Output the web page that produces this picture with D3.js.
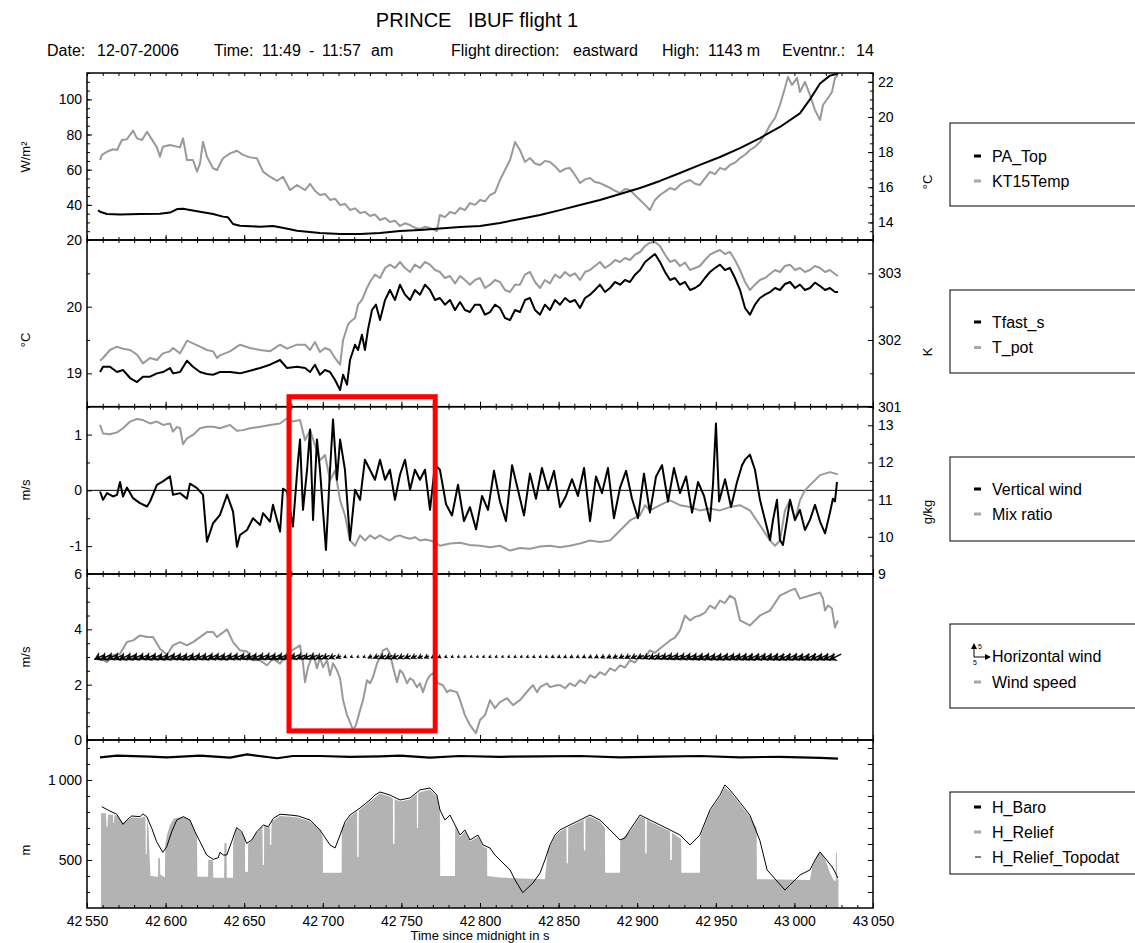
<!DOCTYPE html>
<html><head><meta charset="utf-8">
<script src="https://cdn.jsdelivr.net/npm/d3@7"></script>
<style>
body{margin:0;background:#fff;}
svg{font-family:"Liberation Sans",Arial,Helvetica,sans-serif;}
</style></head><body>
<svg id="chart" width="1135" height="943"></svg>
<script>
// ---- flight time axis (seconds since midnight) ----
const timeDomain = [42550, 43050];
const timeMajorTicks = [42550, 42600, 42650, 42700, 42750, 42800, 42850, 42900, 42950, 43000, 43050];

// ---- panel 1: radiation (W/m²) and surface temperature (°C) ----
const paTop = [[42557.0,36.8],[42558.3,36.1],[42562.7,34.8],[42571.0,34.5],[42583.7,34.8],[42596.4,35.0],[42602.8,35.6],[42607.3,37.6],[42611.1,37.8],[42615.5,37.1],[42621.9,36.1],[42630.2,34.8],[42636.5,33.3],[42639.7,32.9],[42642.9,29.1],[42647.3,28.1],[42660.1,27.6],[42668.3,28.0],[42676.0,26.7],[42683.6,25.3],[42698.2,24.0],[42711.0,23.4],[42723.7,23.4],[42736.4,24.0],[42749.1,25.1],[42761.8,25.7],[42774.5,26.5],[42787.3,27.4],[42800.0,28.0],[42812.7,29.7],[42825.4,32.0],[42838.2,34.2],[42850.9,37.0],[42863.6,39.9],[42876.3,42.8],[42889.1,46.2],[42901.8,49.6],[42914.5,53.6],[42927.2,58.1],[42939.9,62.7],[42952.7,67.2],[42965.4,72.3],[42978.1,78.0],[42990.8,84.3],[43003.5,92.0],[43009.9,100.0],[43016.3,109.0],[43022.6,113.5],[43027.7,114.5]];
const kt15Temp = [[42558.3,17.55],[42559.5,17.84],[42562.7,18.02],[42566.5,18.16],[42569.1,18.12],[42572.2,18.69],[42575.4,18.73],[42579.3,19.22],[42581.8,18.78],[42585.0,18.69],[42588.2,19.16],[42590.1,18.88],[42594.5,18.27],[42596.4,17.74],[42598.3,18.31],[42602.8,18.40],[42609.2,18.27],[42611.1,18.78],[42613.6,17.55],[42617.4,17.55],[42620.0,16.89],[42621.9,17.36],[42623.8,18.59],[42626.3,17.74],[42630.2,17.08],[42632.7,16.98],[42636.5,17.65],[42641.0,17.93],[42645.4,18.08],[42649.2,17.84],[42653.7,17.70],[42658.1,17.65],[42662.0,16.89],[42666.4,16.60],[42670.9,16.37],[42674.7,16.60],[42679.1,15.84],[42683.6,16.13],[42688.7,15.84],[42691.9,16.19],[42695.0,15.80],[42698.2,15.56],[42701.4,15.62],[42704.6,15.28],[42707.8,15.35],[42711.0,14.99],[42714.1,15.05],[42717.3,14.71],[42720.5,14.80],[42723.7,14.54],[42726.8,14.60],[42730.0,14.37],[42733.2,14.45],[42736.4,14.14],[42739.6,14.25],[42742.7,14.02],[42745.9,14.10],[42749.1,13.80],[42752.3,13.95],[42755.5,13.85],[42758.6,13.70],[42761.8,13.63],[42765.0,13.75],[42768.2,13.68],[42772.6,13.51],[42774.5,14.42],[42777.7,14.30],[42780.9,14.59],[42784.1,14.50],[42787.3,14.82],[42790.4,14.70],[42793.6,15.10],[42796.8,15.00],[42800.0,15.28],[42803.2,15.20],[42806.4,15.56],[42809.5,15.70],[42812.7,16.41],[42815.9,16.98],[42819.1,17.55],[42822.3,18.57],[42825.4,18.12],[42828.6,17.44],[42831.8,17.66],[42835.0,17.35],[42838.2,17.27],[42841.3,17.50],[42844.5,17.44],[42847.7,17.20],[42850.9,16.87],[42854.1,17.05],[42857.2,17.10],[42860.4,16.70],[42863.6,16.24],[42866.8,16.45],[42870.0,16.53],[42873.1,16.30],[42876.3,16.24],[42879.5,16.10],[42882.7,15.96],[42885.9,15.80],[42889.1,15.67],[42892.2,15.90],[42895.4,15.84],[42898.6,15.55],[42901.8,15.28],[42905.0,15.00],[42908.1,14.71],[42911.3,15.28],[42914.5,15.56],[42917.7,15.75],[42920.9,15.96],[42924.0,15.85],[42927.2,16.13],[42930.4,16.30],[42933.6,16.41],[42936.8,16.20],[42939.9,16.13],[42943.1,16.50],[42946.3,16.87],[42949.5,16.75],[42952.7,17.10],[42955.8,17.00],[42959.0,17.27],[42962.2,17.40],[42965.4,17.66],[42968.6,17.85],[42971.7,18.12],[42974.9,18.30],[42978.1,18.57],[42981.3,19.00],[42984.5,19.54],[42987.7,19.94],[42990.8,20.68],[42994.0,21.65],[42995.9,22.27],[42998.5,21.82],[43001.7,22.22],[43003.5,21.42],[43006.7,21.99],[43009.9,21.25],[43013.1,20.39],[43016.3,19.83],[43018.2,20.68],[43021.4,21.08],[43023.9,21.42],[43025.8,22.22],[43027.7,22.39]];

// ---- panel 2: fast temperature (°C) and potential temperature (K) ----
const tfastS = [[42558.3,19.02],[42560.2,19.10],[42564.6,19.10],[42569.1,19.02],[42572.9,19.05],[42577.4,18.93],[42581.8,18.87],[42585.6,18.95],[42590.1,18.95],[42594.5,19.00],[42598.3,19.02],[42602.8,19.08],[42604.7,19.00],[42609.2,19.02],[42613.6,19.19],[42617.4,19.10],[42621.9,19.02],[42626.3,18.99],[42630.2,18.98],[42634.6,19.02],[42641.0,19.02],[42647.3,19.00],[42653.7,19.04],[42660.1,19.08],[42666.4,19.13],[42672.8,19.20],[42677.2,19.08],[42683.6,19.10],[42688.7,19.08],[42691.9,19.02],[42695.0,19.13],[42698.2,18.98],[42701.4,19.05],[42704.6,19.02],[42707.8,18.90],[42711.0,18.75],[42712.9,18.98],[42715.4,18.83],[42717.3,19.20],[42720.5,19.43],[42722.4,19.35],[42724.9,19.58],[42726.8,19.35],[42728.7,19.65],[42731.3,19.95],[42733.8,20.03],[42736.4,19.80],[42739.6,20.10],[42742.7,20.25],[42745.9,20.10],[42749.1,20.33],[42752.3,20.18],[42755.5,20.10],[42758.6,20.25],[42761.8,20.18],[42765.0,20.33],[42768.2,20.25],[42771.4,20.10],[42774.5,20.13],[42777.7,20.03],[42780.9,20.10],[42784.1,19.95],[42787.3,20.07],[42790.4,19.95],[42793.6,19.92],[42796.8,20.03],[42800.0,20.03],[42803.2,19.88],[42806.4,19.92],[42809.5,20.03],[42812.7,19.98],[42815.9,19.83],[42819.1,19.80],[42822.3,19.95],[42825.4,19.92],[42828.6,20.10],[42831.8,20.13],[42835.0,19.95],[42838.2,19.88],[42841.3,20.03],[42844.5,19.95],[42847.7,20.10],[42850.9,20.03],[42854.1,20.13],[42857.2,20.07],[42860.4,20.10],[42863.6,19.98],[42866.8,20.13],[42870.0,20.18],[42873.1,20.25],[42876.3,20.33],[42879.5,20.22],[42882.7,20.28],[42885.9,20.37],[42889.1,20.33],[42892.2,20.40],[42895.4,20.37],[42898.6,20.48],[42901.8,20.55],[42905.0,20.67],[42908.1,20.73],[42911.3,20.79],[42914.5,20.67],[42917.7,20.52],[42920.9,20.40],[42924.0,20.43],[42927.2,20.33],[42930.4,20.37],[42933.6,20.25],[42936.8,20.28],[42939.9,20.33],[42943.1,20.43],[42946.3,20.52],[42949.5,20.58],[42952.7,20.63],[42955.8,20.55],[42959.0,20.58],[42962.2,20.43],[42965.4,20.25],[42968.6,19.98],[42971.7,19.88],[42974.9,20.03],[42978.1,20.13],[42981.3,20.18],[42984.5,20.22],[42987.7,20.28],[42990.8,20.25],[42994.0,20.34],[42997.2,20.37],[43000.4,20.28],[43003.5,20.33],[43006.7,20.25],[43009.9,20.28],[43013.1,20.36],[43016.3,20.31],[43019.5,20.25],[43022.6,20.28],[43025.8,20.22],[43027.7,20.22]];
const tPot = [[42558.3,301.69],[42560.2,301.73],[42564.6,301.85],[42569.1,301.90],[42572.9,301.87],[42577.4,301.85],[42581.8,301.78],[42585.6,301.65],[42590.1,301.73],[42594.5,301.70],[42598.3,301.80],[42602.8,301.83],[42604.7,301.88],[42609.2,301.80],[42613.6,301.99],[42617.4,301.95],[42621.9,301.90],[42626.3,301.85],[42630.2,301.83],[42632.7,301.73],[42634.6,301.77],[42641.0,301.83],[42647.3,301.93],[42653.7,301.88],[42660.1,301.85],[42666.4,301.83],[42672.8,301.93],[42677.2,301.87],[42683.6,301.93],[42688.7,301.93],[42691.9,301.85],[42695.0,301.97],[42698.2,301.82],[42701.4,301.88],[42704.6,301.85],[42707.8,301.73],[42711.0,301.63],[42712.9,302.00],[42716.0,302.23],[42717.3,302.27],[42720.5,302.33],[42722.4,302.53],[42724.9,302.60],[42727.5,302.75],[42730.0,302.87],[42733.2,302.98],[42736.4,302.93],[42739.6,303.08],[42742.7,303.13],[42745.9,303.08],[42749.1,303.17],[42752.3,303.08],[42755.5,303.02],[42758.6,303.13],[42761.8,303.08],[42765.0,303.17],[42768.2,303.13],[42771.4,303.05],[42774.5,303.02],[42777.7,302.93],[42780.9,302.96],[42784.1,302.85],[42787.3,302.96],[42790.4,302.90],[42793.6,302.83],[42796.8,302.90],[42800.0,302.93],[42803.2,302.78],[42806.4,302.83],[42809.5,302.90],[42812.7,302.87],[42815.9,302.75],[42819.1,302.72],[42822.3,302.83],[42825.4,302.83],[42828.6,302.98],[42831.8,303.02],[42835.0,302.87],[42838.2,302.78],[42841.3,302.90],[42844.5,302.85],[42847.7,302.98],[42850.9,302.93],[42854.1,303.02],[42857.2,302.96],[42860.4,303.00],[42863.6,302.90],[42866.8,303.02],[42870.0,303.05],[42873.1,303.11],[42876.3,303.17],[42879.5,303.08],[42882.7,303.13],[42885.9,303.20],[42889.1,303.17],[42892.2,303.23],[42895.4,303.20],[42898.6,303.28],[42901.8,303.32],[42905.0,303.41],[42908.1,303.46],[42911.3,303.47],[42914.5,303.41],[42917.7,303.28],[42920.9,303.17],[42924.0,303.20],[42927.2,303.11],[42930.4,303.16],[42933.6,303.05],[42936.8,303.08],[42939.9,303.11],[42943.1,303.20],[42946.3,303.28],[42949.5,303.32],[42952.7,303.35],[42955.8,303.29],[42959.0,303.32],[42962.2,303.20],[42965.4,303.05],[42968.6,302.87],[42971.7,302.75],[42974.9,302.83],[42978.1,302.90],[42981.3,302.93],[42984.5,302.99],[42987.7,303.05],[42990.8,303.02],[42994.0,303.11],[42997.2,303.13],[43000.4,303.05],[43003.5,303.08],[43006.7,303.02],[43009.9,303.05],[43013.1,303.11],[43016.3,303.08],[43019.5,303.02],[43022.6,303.05],[43025.8,302.99],[43027.7,302.96]];

// ---- panel 3: vertical wind (m/s) and mixing ratio (g/kg) ----
const verticalWind = [[42558.3,-0.02],[42560.2,-0.17],[42562.7,-0.05],[42566.5,-0.11],[42569.1,-0.08],[42571.0,0.15],[42572.9,-0.11],[42575.4,0.05],[42579.3,-0.14],[42583.7,-0.23],[42588.2,-0.29],[42590.1,-0.20],[42594.5,0.10],[42598.3,0.16],[42602.8,0.25],[42604.7,-0.08],[42609.2,-0.05],[42613.6,-0.15],[42615.5,0.12],[42620.0,0.04],[42623.8,-0.08],[42626.3,-0.92],[42630.2,-0.59],[42634.6,-0.44],[42639.1,-0.08],[42642.9,-0.38],[42645.4,-1.01],[42647.3,-0.80],[42651.8,-0.71],[42655.6,-0.50],[42660.1,-0.62],[42662.0,-0.41],[42666.4,-0.56],[42668.3,-0.26],[42672.8,-0.74],[42674.7,0.03],[42677.2,-0.02],[42681.0,-0.65],[42684.2,0.52],[42685.5,0.91],[42687.4,-0.35],[42690.0,0.37],[42691.9,1.09],[42693.8,-0.53],[42696.3,0.91],[42698.2,0.37],[42700.1,-0.35],[42702.0,-1.07],[42704.6,0.37],[42706.5,1.27],[42709.0,0.19],[42711.0,0.91],[42714.1,0.37],[42717.3,-0.89],[42720.5,0.01],[42723.7,-0.17],[42726.8,0.55],[42730.0,0.37],[42733.2,0.19],[42736.4,0.55],[42739.6,0.19],[42742.7,0.37],[42745.9,-0.17],[42749.1,0.28],[42752.3,0.55],[42755.5,0.01],[42758.6,0.37],[42761.8,0.19],[42765.0,0.37],[42768.2,-0.35],[42771.4,0.46],
  [42774.5,0.37],[42778.4,-0.25],[42782.2,-0.45],[42786.0,0.10],[42789.8,-0.55],[42793.6,-0.30],[42797.5,-0.70],[42801.3,-0.10],[42805.1,-0.35],[42808.9,0.35],[42812.7,-0.20],[42816.5,-0.55],[42820.4,0.45],[42824.2,0.00],[42828.0,-0.45],[42831.8,0.30],[42835.6,-0.15],[42839.4,0.40],[42843.3,0.00],[42847.1,0.35],[42850.9,-0.30],[42854.7,-0.10],[42858.5,0.20],[42862.3,-0.10],[42866.2,0.40],[42870.0,-0.55],[42873.8,0.25],[42877.6,-0.05],[42881.4,0.40],[42885.2,-0.50],[42889.1,0.05],[42892.9,0.35],[42896.7,-0.15],[42900.5,-0.50],[42904.3,0.30],[42908.1,-0.40],[42912.0,0.25],[42915.8,0.45],[42919.6,-0.20],[42923.4,0.40],[42927.2,-0.05],[42931.1,0.25],[42934.9,-0.40],[42938.7,0.15],[42942.5,-0.10],[42946.3,-0.55],[42948.2,0.10],[42950.1,1.20],[42952.1,-0.20],[42955.9,0.20],[42959.7,-0.30],[42963.5,0.15],[42966.7,0.45],[42968.6,0.55],[42971.7,0.64],[42974.9,0.37],[42978.1,-0.17],[42981.3,-0.53],[42984.5,-0.89],[42986.4,-0.53],[42988.9,-0.17],[42990.8,-0.89],[42992.7,-0.98],[42995.3,-0.53],[42997.2,-0.17],[43000.4,-0.53],[43003.5,-0.35],[43006.7,-0.71],[43009.9,-0.53],[43013.1,-0.26],[43016.3,-0.56],[43019.5,-0.77],[43022.6,-0.40],[43024.5,-0.15],[43025.8,-0.20],[43027.1,0.15]];
const mixRatio = [[42558.3,13.01],[42560.2,12.78],[42564.6,12.76],[42569.1,12.81],[42572.9,12.92],[42577.4,13.10],[42581.8,13.17],[42585.6,13.14],[42590.1,13.05],[42594.5,13.10],[42598.3,13.01],[42602.8,13.05],[42604.7,12.83],[42607.3,12.96],[42609.2,12.92],[42611.1,12.49],[42613.6,12.65],[42617.4,12.74],[42621.9,12.92],[42626.3,12.96],[42630.2,12.96],[42634.6,12.92],[42641.0,13.01],[42645.4,12.85],[42649.2,12.87],[42653.7,12.92],[42660.1,12.96],[42666.4,13.01],[42672.8,13.05],[42677.2,13.19],[42681.0,13.10],[42685.5,13.14],[42688.7,12.60],[42691.9,12.87],[42695.0,12.47],[42698.2,12.06],[42701.4,12.20],[42704.6,11.52],[42707.8,11.79],[42711.0,10.98],[42714.1,10.58],[42717.3,9.90],[42720.5,9.76],[42723.7,10.04],[42726.8,9.90],[42730.0,10.04],[42733.2,9.95],[42736.4,10.04],[42739.6,9.96],[42742.7,9.90],[42745.9,10.00],[42749.1,10.04],[42752.3,9.98],[42755.5,9.95],[42758.6,9.99],[42761.8,9.90],[42765.0,9.93],[42768.2,9.90],[42771.4,9.86],[42774.5,9.76],[42780.9,9.82],[42787.3,9.84],[42793.6,9.78],[42800.0,9.76],[42806.4,9.72],[42812.7,9.76],[42819.1,9.63],[42825.4,9.70],[42831.8,9.68],[42838.2,9.74],[42844.5,9.76],[42850.9,9.72],[42857.2,9.76],[42863.6,9.82],[42870.0,9.90],[42876.3,9.86],[42882.7,9.90],[42889.1,10.17],[42895.4,10.44],[42901.8,10.58],[42905.0,10.85],[42908.1,10.71],[42914.5,10.85],[42920.9,10.98],[42927.2,10.85],[42933.6,10.80],[42939.9,10.71],[42946.3,10.76],[42952.7,10.71],[42959.0,10.80],[42965.4,10.85],[42971.7,10.71],[42978.1,10.31],[42984.5,9.90],[42987.7,9.76],[42990.8,9.90],[42994.0,10.71],[42997.2,10.98],[43000.4,10.44],[43003.5,10.98],[43006.7,11.25],[43009.9,11.39],[43016.3,11.66],[43022.6,11.74],[43027.7,11.68]];

// ---- panel 4: wind speed (m/s) and horizontal wind arrows ----
const windSpeed = [[42558.3,2.94],[42562.7,2.82],[42566.5,3.06],[42571.0,3.12],[42575.4,3.54],[42579.3,3.60],[42583.7,3.78],[42588.2,3.72],[42592.0,3.72],[42596.4,3.30],[42600.9,3.08],[42604.7,3.42],[42609.2,3.54],[42613.6,3.42],[42617.4,3.54],[42621.9,3.72],[42626.3,3.90],[42630.2,3.90],[42632.7,3.72],[42639.1,4.00],[42642.9,3.54],[42647.3,3.24],[42651.8,3.20],[42655.6,2.88],[42660.1,2.88],[42664.5,2.70],[42668.3,2.94],[42672.8,2.76],[42677.2,3.13],[42683.6,3.35],[42685.5,3.42],[42687.4,2.77],[42688.7,2.09],[42690.6,2.63],[42693.8,3.13],[42696.3,2.59],[42698.2,2.99],[42700.1,2.63],[42702.7,2.88],[42704.6,2.34],[42706.5,2.77],[42709.0,2.52],[42711.0,2.23],[42712.9,1.44],[42715.4,0.90],[42717.3,0.65],[42719.2,0.36],[42721.1,0.54],[42723.7,1.08],[42725.6,1.44],[42728.1,2.16],[42730.0,2.05],[42731.9,2.27],[42734.5,2.77],[42736.4,2.99],[42738.3,3.24],[42740.8,3.31],[42742.7,3.13],[42744.7,2.63],[42747.2,2.09],[42749.1,2.52],[42751.0,2.41],[42753.6,2.05],[42755.5,2.23],[42757.4,2.16],[42759.9,1.91],[42761.8,2.05],[42763.7,1.73],[42766.3,2.16],[42768.2,2.34],[42770.1,2.41],[42773.3,2.05],[42776.4,1.98],[42779.0,1.73],[42780.9,1.80],[42785.3,1.73],[42787.3,1.44],[42790.4,0.90],[42793.6,0.54],[42797.4,0.25],[42800.0,0.72],[42803.2,0.90],[42806.4,1.44],[42809.5,1.15],[42812.7,1.37],[42817.2,1.51],[42821.0,1.26],[42825.4,1.44],[42831.8,1.87],[42833.7,1.98],[42836.3,1.73],[42838.2,1.91],[42842.6,2.05],[42844.5,1.91],[42849.0,1.98],[42850.9,1.98],[42854.1,1.87],[42857.2,2.05],[42860.4,1.95],[42863.6,2.16],[42866.8,2.05],[42870.0,2.34],[42873.1,2.25],[42876.3,2.45],[42879.5,2.35],[42882.7,2.59],[42885.9,2.50],[42889.1,2.70],[42892.2,2.62],[42895.4,2.88],[42898.6,2.80],[42901.8,3.06],[42905.0,2.98],[42908.1,3.24],[42911.3,3.15],[42914.5,3.31],[42917.7,3.45],[42920.9,3.60],[42924.0,3.70],[42927.2,3.96],[42930.4,4.50],[42933.6,4.32],[42936.8,4.45],[42939.9,4.50],[42943.1,4.60],[42946.3,4.86],[42949.5,4.75],[42952.7,5.04],[42955.8,4.95],[42959.0,5.22],[42962.2,5.10],[42965.4,4.32],[42971.7,4.14],[42978.1,4.50],[42984.5,4.68],[42990.8,5.22],[42997.2,5.40],[43000.4,5.47],[43003.5,5.11],[43009.9,5.22],[43016.3,5.33],[43018.2,5.11],[43019.5,4.68],[43021.4,4.86],[43023.9,4.75],[43025.8,4.07],[43027.7,4.32]];
// arrow vectors every 4 s from 42558 s: length in m/s, drawn on the 3 m/s line
const arrowStart = 42558, arrowStep = 4;
const arrowSpeed = [3.6,3.7,3.5,3.6,3.8,3.7,3.6,3.5,3.7,3.6,3.6,3.7,3.5,3.6,3.8,3.6,
  3.5,3.6,3.4,3.5,3.6,3.4,3.5,3.3,3.4,3.5,3.3,3.2,3.4,3.3,3.2,
  3.0,2.9,2.8,2.8,2.6,2.5,2.3,1.8,
  0.8,0.5,0.4,0.5,
  1.5,2.0,2.3,2.5,2.4,2.2,2.2,2.0,
  1.8,1.6,1.3,1.0,
  0.6,0.5,0.4,0.4,0.3,0.3,0.4,0.5,0.4,0.3,0.4,0.5,0.4,0.5,0.6,0.5,0.6,0.7,0.8,
  0.8,0.9,0.8,1.0,1.1,1.2,1.3,1.5,1.6,1.8,
  2.0,2.1,2.3,2.5,2.7,2.9,3.0,3.2,3.3,3.4,3.5,
  3.6,3.7,3.6,3.8,3.9,3.8,3.7,3.8,3.9,4.0,3.9,3.8,3.9,4.0,4.1,4.0,3.9,4.0,4.1,4.0,3.9,4.0,4.1];
const arrowHeading = 205; // degrees, counter-clockwise from east
const arrowLevel = 3;     // m/s line on which the arrows sit

// ---- panel 5: heights (m) ----
const hBaro = [[42558.3,1142],[42569.1,1152],[42590.1,1146],[42600.9,1142],[42621.9,1152],[42641.0,1140],[42651.8,1160],[42670.9,1136],[42681.0,1150],[42698.2,1150],[42717.3,1145],[42736.4,1148],[42749.1,1152],[42768.2,1140],[42787.3,1150],[42812.7,1145],[42838.2,1148],[42863.6,1150],[42889.1,1142],[42914.5,1146],[42939.9,1150],[42965.4,1142],[42990.8,1145],[43016.3,1138],[43027.7,1133]];
const hRelief = [[42558.9,792],[42562.1,792],[42562.4,708],[42563.0,708],[42563.4,785],[42566.5,781],[42566.7,731],[42567.2,731],[42567.4,781],[42569.7,775],[42572.9,731],[42575.4,750],[42578.6,765],[42583.7,762],[42586.3,770],[42587.2,770],[42587.4,536],[42588.0,536],[42588.2,760],[42589.1,700],[42589.8,531],[42590.4,400],[42595.2,395],[42595.3,512],[42596.4,512],[42596.6,410],[42599.6,390],[42599.8,600],[42600.9,656],[42602.8,719],[42605.3,760],[42611.1,771],[42615.5,750],[42618.7,677],[42620.0,640],[42620.2,396],[42627.0,396],[42627.1,500],[42630.2,500],[42630.3,389],[42637.2,389],[42637.4,604],[42638.8,604],[42638.9,389],[42642.9,389],[42643.0,614],[42645.2,695],[42648.4,670],[42650.5,630],[42650.6,427],[42652.4,427],[42652.5,600],[42654.8,620],[42658.0,670],[42661.6,712],[42661.8,469],[42662.6,469],[42662.7,715],[42665.3,700],[42666.3,720],[42666.4,594],[42667.2,594],[42667.4,740],[42672.8,775],[42679.1,770],[42684.2,765],[42691.9,740],[42698.2,690],[42700.0,640],[42700.1,420],[42712.0,420],[42712.1,700],[42714.1,725],[42717.3,770],[42721.8,805],[42721.9,520],[42722.8,520],[42722.9,810],[42730.0,865],[42736.4,915],[42742.7,895],[42744.6,885],[42744.7,600],[42745.6,600],[42745.7,880],[42749.1,865],[42755.5,878],[42759.8,915],[42759.9,700],[42760.6,700],[42760.7,920],[42768.2,940],[42772.6,896],[42774.5,800],[42774.7,400],[42784.1,400],[42784.2,710],[42787.3,646],[42790.4,678],[42793.6,615],[42798.7,646],[42801.9,584],[42804.5,570],[42804.6,400],[42812.7,390],[42841.3,380],[42843.2,560],[42847.7,646],[42850.9,678],[42855.0,700],[42855.1,480],[42856.0,480],[42856.1,705],[42863.6,740],[42866.0,755],[42866.1,560],[42867.0,560],[42867.1,760],[42870.0,771],[42876.3,740],[42879.5,700],[42879.6,420],[42889.1,420],[42889.2,620],[42895.4,678],[42901.8,771],[42905.0,760],[42905.1,540],[42906.0,540],[42906.1,755],[42908.1,740],[42914.5,709],[42920.9,680],[42921.0,500],[42922.0,500],[42922.1,670],[42928.0,630],[42928.1,420],[42939.9,420],[42940.1,646],[42946.3,803],[42952.7,896],[42955.8,955],[42959.0,928],[42965.4,850],[42971.7,770],[42976.0,700],[42976.1,380],[43009.9,375],[43011.2,450],[43015.0,540],[43017.6,540],[43020.1,490],[43022.6,420],[43025.2,370],[43026.3,370],[43026.4,544],[43027.0,544],[43027.1,380],[43028.0,380]];
const hReliefTopodat = [[42559.4,833],[42564.6,806],[42568.9,786],[42572.9,723],[42575.3,750],[42578.4,775],[42583.7,771],[42585.6,788],[42588.0,771],[42591.2,698],[42594.3,614],[42598.2,548],[42600.7,583],[42603.9,677],[42607.1,750],[42611.3,771],[42615.5,750],[42618.7,677],[42621.9,614],[42626.1,531],[42630.3,504],[42633.5,514],[42634.6,548],[42636.7,531],[42638.9,531],[42642.0,614],[42645.2,702],[42648.4,677],[42651.6,604],[42654.8,625],[42658.0,677],[42662.2,719],[42665.3,708],[42668.5,760],[42672.8,786],[42679.1,781],[42684.4,775],[42691.9,750],[42698.2,688],[42704.6,594],[42707.8,575],[42711.0,656],[42714.1,738],[42717.3,781],[42723.7,825],[42730.0,875],[42733.2,906],[42736.4,925],[42742.7,906],[42749.1,875],[42755.5,888],[42761.8,938],[42768.2,950],[42772.6,906],[42774.5,813],[42777.7,750],[42780.9,781],[42784.1,719],[42787.3,656],[42790.4,688],[42793.6,625],[42798.7,656],[42801.9,594],[42806.4,575],[42809.5,531],[42812.7,500],[42819.1,438],[42822.3,375],[42827.2,296],[42833.7,356],[42838.2,419],[42841.3,500],[42844.5,594],[42847.7,656],[42850.9,688],[42857.2,719],[42863.6,750],[42870.0,781],[42876.3,750],[42882.7,688],[42889.1,625],[42892.2,638],[42895.4,688],[42901.8,781],[42908.1,750],[42914.5,719],[42920.9,688],[42927.2,656],[42933.6,594],[42939.9,656],[42946.3,813],[42952.7,906],[42955.8,969],[42959.0,938],[42965.4,860],[42971.7,780],[42978.1,620],[42982.6,438],[42994.0,312],[43003.5,406],[43009.9,438],[43013.1,500],[43016.3,550],[43020.5,500],[43024.5,450],[43027.7,387]];

// highlighted interval (time span, from potential temperature level down to wind-speed level)
const highlightSpan = [42678.5, 42771.5];
const highlightTopK = 301.15;
const highlightBottomMs = 0.33;

// ------------------------------------------------------------------
const svg = d3.select('#chart');
const BLACK = '#000', GRAY = '#999999', RELIEF = '#b3b3b3', LEG_GRAY = '#a8a8a8';

const x = d3.scaleLinear().domain(timeDomain).range([87, 873]);
const panels = [
  {top: 73, bottom: 240},
  {top: 240, bottom: 406.7},
  {top: 406.7, bottom: 574},
  {top: 574, bottom: 740},
  {top: 740, bottom: 908}
];
const yPA  = d3.scaleLinear([20, 115], [panels[0].bottom, panels[0].top]);
const yKT  = d3.scaleLinear([13, 22.5], [panels[0].bottom, panels[0].top]);
const yTf  = d3.scaleLinear([18.5, 21], [panels[1].bottom, panels[1].top]);
const yTp  = d3.scaleLinear([301, 303.5], [panels[1].bottom, panels[1].top]);
const yW   = d3.scaleLinear([-1.5, 1.5], [panels[2].bottom, panels[2].top]);
const yMix = d3.scaleLinear([9, 13.5], [panels[2].bottom, panels[2].top]);
const yWs  = d3.scaleLinear([0, 6], [panels[3].bottom, panels[3].top]);
const yH   = d3.scaleLinear([200, 1250], [panels[4].bottom, panels[4].top]);

const range = (a, b, s) => d3.range(a, b + s / 2, s);
const timeMinor = range(timeDomain[0], timeDomain[1], 10);

// clip paths per panel
const defs = svg.append('defs');
panels.forEach((p, i) => {
  defs.append('clipPath').attr('id', 'clip' + i)
    .append('rect').attr('x', 87).attr('y', p.top).attr('width', 786).attr('height', p.bottom - p.top);
});

const plot = svg.append('g');

// ---------- data marks ----------
function drawLine(panelIdx, data, yScale, color, width) {
  plot.append('path')
    .attr('clip-path', `url(#clip${panelIdx})`)
    .datum(data)
    .attr('fill', 'none')
    .attr('stroke', color)
    .attr('stroke-width', width)
    .attr('stroke-linejoin', 'round')
    .attr('d', d3.line().x(d => x(d[0])).y(d => yScale(d[1])));
}

// panel 5: relief area, topography and barometric height
plot.append('path')
  .attr('clip-path', 'url(#clip4)')
  .datum(hRelief)
  .attr('fill', RELIEF)
  .attr('d', d3.area().x(d => x(d[0])).y0(yH(200)).y1(d => yH(d[1])));
drawLine(4, hReliefTopodat, yH, BLACK, 1);
drawLine(4, hBaro, yH, BLACK, 2.2);

// panel 1
drawLine(0, kt15Temp, yKT, GRAY, 2);
drawLine(0, paTop, yPA, BLACK, 2);
// panel 2
drawLine(1, tPot, yTp, GRAY, 2);
drawLine(1, tfastS, yTf, BLACK, 2);
// panel 3
plot.append('line')
  .attr('x1', x(timeDomain[0])).attr('x2', x(timeDomain[1]))
  .attr('y1', yW(0)).attr('y2', yW(0))
  .attr('stroke', BLACK).attr('stroke-width', 1);
drawLine(2, mixRatio, yMix, GRAY, 2);
drawLine(2, verticalWind, yW, BLACK, 2);
// panel 4
drawLine(3, windSpeed, yWs, GRAY, 2);

// wind arrows
const pxPerMs = 3.2;
const rad = arrowHeading * Math.PI / 180;
const arrowG = plot.append('g').attr('clip-path', 'url(#clip3)');
arrowSpeed.forEach((s, i) => {
  const t = arrowStart + i * arrowStep;
  const cx = x(t), cy = yWs(arrowLevel);
  const L = s * pxPerMs;
  const dx = Math.cos(rad) * L, dy = -Math.sin(rad) * L;
  const x0 = cx - dx / 2, y0 = cy - dy / 2, x1 = cx + dx / 2, y1 = cy + dy / 2;
  arrowG.append('line').attr('x1', x0).attr('y1', y0).attr('x2', x1).attr('y2', y1)
    .attr('stroke', BLACK).attr('stroke-width', 1.4);
  const hl = Math.max(1.8, Math.min(7, 1.8 + L * 0.5)), hw = hl * 0.62;
  const ux = dx / (L || 1), uy = dy / (L || 1);
  const bx = x1 - ux * hl, by = y1 - uy * hl;
  arrowG.append('path')
    .attr('d', `M${x1},${y1}L${bx - uy * hw},${by + ux * hw}L${bx + ux * hl * 0.3},${by + uy * hl * 0.3}L${bx + uy * hw},${by - ux * hw}Z`)
    .attr('fill', BLACK).attr('stroke', BLACK).attr('stroke-width', 0.4);
});

// ---------- frames and axes ----------
const axesG = svg.append('g');
const fmtThin = v => { const s = String(v); return s.length > 3 ? s.slice(0, s.length - 3) + '\u2009' + s.slice(-3) : s; };

function yAxis(side, scale, majors, minors, labels) {
  const xpos = side === 'left' ? 87 : 873;
  const mk = side === 'left' ? d3.axisLeft : d3.axisRight;
  const g = axesG.append('g').attr('transform', `translate(${xpos},0)`);
  g.call(mk(scale).tickValues(majors).tickSize(-5).tickPadding(5)
    .tickFormat(v => labels && labels.includes(v) ? fmtThin(v) : ''));
  g.call(gg => gg.select('.domain').remove());
  const g2 = axesG.append('g').attr('transform', `translate(${xpos},0)`);
  g2.call(mk(scale).tickValues(minors).tickSize(-3).tickFormat(''));
  g2.select('.domain').remove();
  [g, g2].forEach(gg => gg.selectAll('line').attr('stroke', BLACK).attr('stroke-width', 1));
  g.selectAll('text').attr('font-size', 14).attr('fill', BLACK)
    .attr('font-family', '"Liberation Sans",Arial,sans-serif');
}

function xTicks(p, labelled) {
  const gTop = axesG.append('g').attr('transform', `translate(0,${p.top})`);
  gTop.call(d3.axisTop(x).tickValues(timeMajorTicks).tickSize(-5).tickFormat(''));
  gTop.call(d3.axisTop(x).tickValues(timeMinor).tickSize(-3).tickFormat(''));
  gTop.selectAll('.domain').remove();
  const gBot = axesG.append('g').attr('transform', `translate(0,${p.bottom})`);
  gBot.call(d3.axisBottom(x).tickValues(timeMinor).tickSize(-3).tickFormat(''));
  gBot.selectAll('.domain').remove();
  const gBot2 = axesG.append('g').attr('transform', `translate(0,${p.bottom})`);
  gBot2.call(d3.axisBottom(x).tickValues(timeMajorTicks).tickSize(-5).tickPadding(8)
    .tickFormat(labelled ? fmtThin : ''));
  gBot2.select('.domain').remove();
  gBot2.selectAll('text').attr('font-size', 14).attr('fill', BLACK)
    .attr('font-family', '"Liberation Sans",Arial,sans-serif');
  [gTop, gBot, gBot2].forEach(gg => gg.selectAll('line').attr('stroke', BLACK).attr('stroke-width', 1));
}

panels.forEach((p, i) => {
  axesG.append('rect').attr('x', 87).attr('y', p.top).attr('width', 786).attr('height', p.bottom - p.top)
    .attr('fill', 'none').attr('stroke', BLACK).attr('stroke-width', 1.5);
  xTicks(p, i === 4);
});

// panel 1
yAxis('left', yPA, range(20, 100, 20), range(25, 115, 5), range(20, 100, 20));
yAxis('right', yKT, range(14, 22, 2), range(13, 22.5, 0.5), range(14, 22, 2));
// panel 2
yAxis('left', yTf, [19, 20], [18.5, 19.5, 20.5], [19, 20]);
yAxis('right', yTp, [301, 302, 303], [301.5, 302.5, 303.5], [301, 302, 303]);
// panel 3
yAxis('left', yW, [-1, 0, 1], [-1.5, -0.5, 0.5, 1.5], [-1, 0, 1]);
yAxis('right', yMix, range(9, 13, 1), range(9.5, 13.5, 1), range(9, 13, 1));
// panel 4
yAxis('left', yWs, [0, 2, 4, 6], range(0.5, 5.5, 0.5).filter(v => v % 2 !== 0), [0, 2, 4, 6]);
// panel 5
yAxis('left', yH, [500, 1000], range(300, 1200, 100).filter(v => v % 500 !== 0), [500, 1000]);
yAxis('right', yH, range(300, 1200, 100), [], []);

// ---------- highlight box ----------
svg.append('rect')
  .attr('x', x(highlightSpan[0])).attr('y', yTp(highlightTopK))
  .attr('width', x(highlightSpan[1]) - x(highlightSpan[0]))
  .attr('height', yWs(highlightBottomMs) - yTp(highlightTopK))
  .attr('fill', 'none').attr('stroke', '#ff0000').attr('stroke-width', 5);

// ---------- titles ----------
const txt = (xp, yp, s, size, opts = {}) => {
  const t = svg.append('text').attr('x', xp).attr('y', yp).attr('font-size', size)
    .attr('fill', BLACK).attr('text-anchor', opts.anchor || 'start')
    .style('white-space', 'pre').text(s);
  if (opts.rotate) t.attr('transform', `rotate(-90,${xp},${yp})`);
  return t;
};
txt(477, 27, 'PRINCE   IBUF flight 1', 20, {anchor: 'middle'});
const subY = 56;
[['Date:', 47], ['12-07-2006', 97], ['Time:', 214], ['11:49', 262], ['-', 309], ['11:57', 322],
 ['am', 371], ['Flight direction:', 451], ['eastward', 573], ['High:', 662], ['1143 m', 708],
 ['Eventnr.:', 782], ['14', 856]].forEach(([s, xp]) => txt(xp, subY, s, 16));
txt(480, 940, 'Time since midnight in s', 13, {anchor: 'middle'});

// axis titles
txt(30, 157, 'W/m²', 13, {anchor: 'middle', rotate: true});
txt(30, 340, '°C', 13, {anchor: 'middle', rotate: true});
txt(30, 490, 'm/s', 13, {anchor: 'middle', rotate: true});
txt(30, 657, 'm/s', 13, {anchor: 'middle', rotate: true});
txt(30, 850, 'm', 13, {anchor: 'middle', rotate: true});
txt(932, 182, '°C', 13, {anchor: 'middle', rotate: true});
txt(932, 352, 'K', 13, {anchor: 'middle', rotate: true});
txt(932, 512, 'g/kg', 13, {anchor: 'middle', rotate: true});

// ---------- legends ----------
function legend(top, height, entries) {
  svg.append('rect').attr('x', 950).attr('y', top).attr('width', 220).attr('height', height)
    .attr('fill', '#fff').attr('stroke', BLACK).attr('stroke-width', 1);
  entries.forEach(e => {
    if (e.kind === 'black' || e.kind === 'gray') {
      svg.append('rect').attr('x', 974).attr('y', e.y - 1.5).attr('width', 7).attr('height', 3)
        .attr('fill', e.kind === 'black' ? BLACK : LEG_GRAY);
    } else if (e.kind === 'thin') {
      svg.append('line').attr('x1', 975).attr('x2', 981).attr('y1', e.y).attr('y2', e.y)
        .attr('stroke', BLACK).attr('stroke-width', 1);
    } else if (e.kind === 'wind') {
      const ox = 974, oy = e.y + 1;
      svg.append('line').attr('x1', ox).attr('y1', oy).attr('x2', ox).attr('y2', oy - 10).attr('stroke', BLACK).attr('stroke-width', 1);
      svg.append('path').attr('d', `M${ox},${oy - 14}L${ox - 3},${oy - 8}L${ox + 3},${oy - 8}Z`).attr('fill', BLACK);
      svg.append('line').attr('x1', ox).attr('y1', oy).attr('x2', ox + 12).attr('y2', oy).attr('stroke', BLACK).attr('stroke-width', 1);
      svg.append('path').attr('d', `M${ox + 17},${oy}L${ox + 11},${oy - 3}L${ox + 11},${oy + 3}Z`).attr('fill', BLACK);
      txt(ox + 4, oy - 8, '5', 7);
      txt(ox - 1, oy + 8, '5', 7);
    }
    txt(992, e.y + 5.5, e.label, 16);
  });
}
legend(123, 83, [{y: 156, label: 'PA_Top', kind: 'black'}, {y: 181, label: 'KT15Temp', kind: 'gray'}]);
legend(290, 83, [{y: 322, label: 'Tfast_s', kind: 'black'}, {y: 347.5, label: 'T_pot', kind: 'gray'}]);
legend(457, 84, [{y: 489, label: 'Vertical wind', kind: 'black'}, {y: 514, label: 'Mix ratio', kind: 'gray'}]);
legend(624, 84, [{y: 656, label: 'Horizontal wind', kind: 'wind'}, {y: 682, label: 'Wind speed', kind: 'gray'}]);
legend(792, 82, [{y: 807, label: 'H_Baro', kind: 'black'}, {y: 832, label: 'H_Relief', kind: 'gray'}, {y: 857, label: 'H_Relief_Topodat', kind: 'thin'}]);
</script>
</body></html>
